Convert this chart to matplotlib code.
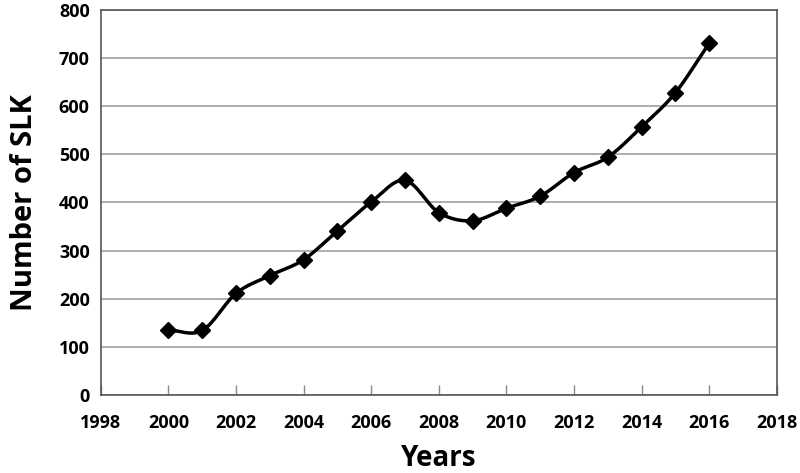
import numpy as np
import matplotlib.pyplot as plt

years = [2000, 2001, 2002, 2003, 2004, 2005, 2006, 2007, 2008,
         2009, 2010, 2011, 2012, 2013, 2014, 2015, 2016]
counts = [135, 134, 211, 248, 281, 341, 401, 446, 379,
          362, 388, 413, 462, 494, 557, 628, 731]


def catmull_rom(x, y, n=30):
    # Excel-style smoothed line through the points
    x = np.asarray(x, float)
    y = np.asarray(y, float)
    px = np.concatenate([[2 * x[0] - x[1]], x, [2 * x[-1] - x[-2]]])
    py = np.concatenate([[2 * y[0] - y[1]], y, [2 * y[-1] - y[-2]]])
    xs, ys = [], []
    t = np.linspace(0, 1, n)
    for i in range(1, len(px) - 2):
        for p, out in ((px, xs), (py, ys)):
            p0, p1, p2, p3 = p[i - 1], p[i], p[i + 1], p[i + 2]
            out.append(0.5 * (2 * p1 + (-p0 + p2) * t
                              + (2 * p0 - 5 * p1 + 4 * p2 - p3) * t ** 2
                              + (-p0 + 3 * p1 - 3 * p2 + p3) * t ** 3))
    return np.concatenate(xs), np.concatenate(ys)


plt.rcParams['font.family'] = ['Open Sans', 'DejaVu Sans']
plt.rcParams['font.weight'] = 'bold'

fig = plt.figure(figsize=(8, 4.73), dpi=100)
ax = fig.add_axes([0.126, 0.165, 0.845, 0.814])

sx, sy = catmull_rom(years, counts)
ax.plot(sx, sy, color='black', lw=2.5, zorder=3)
ax.plot(years, counts, 'D', color='black', ms=8, zorder=4)

ax.set_xlim(1998, 2018)
ax.set_ylim(0, 800)
ax.set_xticks(range(1998, 2019, 2))
ax.set_yticks(range(0, 801, 100))
ax.yaxis.grid(True, color='#a0a0a0', lw=1.2)
ax.set_axisbelow(True)

ax.tick_params(axis='x', direction='in', length=7, width=1, color='#888888',
               labelsize=13, pad=14)
ax.tick_params(axis='y', length=0, labelsize=13, pad=8)
for lab in ax.get_xticklabels() + ax.get_yticklabels():
    lab.set_fontweight('bold')

for s in ax.spines.values():
    s.set_color('#555555')
    s.set_linewidth(1.2)

ax.set_xlabel('Years', fontsize=20, fontweight='bold', labelpad=8)
ax.set_ylabel('Number of SLK', fontsize=21, fontweight='bold', labelpad=14)

fig.savefig('out.png', dpi=100)
